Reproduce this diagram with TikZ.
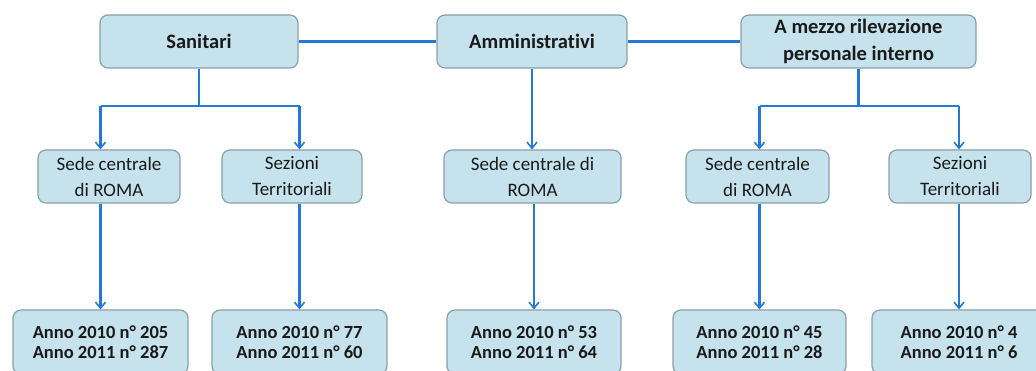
\documentclass[tikz,border=0pt]{standalone}
\usepackage{fontspec}
\setmainfont{Carlito}[RawFeature=-liga]
\usetikzlibrary{arrows.meta}
\definecolor{boxfill}{HTML}{C6E2EC}
\definecolor{boxline}{HTML}{889FA8}
\definecolor{linkc}{HTML}{2479D3}
\definecolor{txt}{HTML}{1A1A1A}
\begin{document}
\begin{tikzpicture}[x=1pt,y=-1pt,
 box/.style={draw=boxline,fill=boxfill,line width=1.2pt,rounded corners=8pt,inner sep=0pt,align=center,text=txt},
 topbox/.style={box,minimum height=53pt,font=\fontsize{20.5}{27}\selectfont\bfseries},
 midbox/.style={box,minimum height=53pt,font=\fontsize{19}{26}\selectfont},
 botbox/.style={box,minimum height=64pt,font=\fontsize{18.5}{20}\selectfont\bfseries},
 link/.style={draw=linkc,line width=2.2pt},
 arr/.style={link,-{Straight Barb[length=6pt,width=10pt,line width=1.6pt]}}]
\path[use as bounding box] (0,0) rectangle (1036,371);
\clip (0,0) rectangle (1036,371);
% top row
\node[topbox,minimum width=198pt] (S) at (199,41.5) {Sanitari};
\node[topbox,minimum width=190pt] (A) at (532,41.5) {Amministrativi};
\node[topbox,minimum width=235pt] (M) at (858.5,41.5) {A mezzo rilevazione\\personale interno};
% middle row
\node[midbox,minimum width=142pt] (s2a) at (109,176.5) {Sede centrale\\di ROMA};
\node[midbox,minimum width=140pt] (s2b) at (292,176.5) {Sezioni\\Territoriali};
\node[midbox,minimum width=177pt] (a2) at (532.5,176.5) {Sede centrale di\\ROMA};
\node[midbox,minimum width=143pt] (m2a) at (757.5,176.5) {Sede centrale\\di ROMA};
\node[midbox,minimum width=142pt] (m2b) at (960,176.5) {Sezioni\\Territoriali};
% bottom row
\node[botbox,minimum width=175pt] (s3a) at (100.5,342) {Anno 2010 n° 205\\Anno 2011 n° 287};
\node[botbox,minimum width=175pt] (s3b) at (299.5,342) {Anno 2010 n° 77\\Anno 2011 n° 60};
\node[botbox,minimum width=174pt] (a3) at (534,342) {Anno 2010 n° 53\\Anno 2011 n° 64};
\node[botbox,minimum width=173pt] (m3a) at (759.5,342) {Anno 2010 n° 45\\Anno 2011 n° 28};
\node[botbox,minimum width=174pt] (m3b) at (959,342) {Anno 2010 n° 4\\Anno 2011 n° 6};
% connectors
\coordinate (busy) at (0,106);
\draw[link] (S) -- (A);
\draw[link] (A) -- (M);
\draw[link] (S.south) -- (S.south |- busy);
\draw[link] (s3a |- busy) -- (s3b |- busy);
\draw[arr] (s3a |- busy) -- (s3a |- s2a.north);
\draw[arr] (s3b |- busy) -- (s3b |- s2b.north);
\draw[arr] (s3a |- s2a.south) -- (s3a.north);
\draw[arr] (s3b |- s2b.south) -- (s3b.north);
\draw[arr] (A.south) -- (A.south |- a2.north);
\draw[arr] (a3 |- a2.south) -- (a3.north);
\draw[link] (M.south) -- (M.south |- busy);
\draw[link] (m3a |- busy) -- (m3b |- busy);
\draw[arr] (m3a |- busy) -- (m3a |- m2a.north);
\draw[arr] (m3b |- busy) -- (m3b |- m2b.north);
\draw[arr] (m3a |- m2a.south) -- (m3a.north);
\draw[arr] (m3b |- m2b.south) -- (m3b.north);
\end{tikzpicture}
\end{document}
